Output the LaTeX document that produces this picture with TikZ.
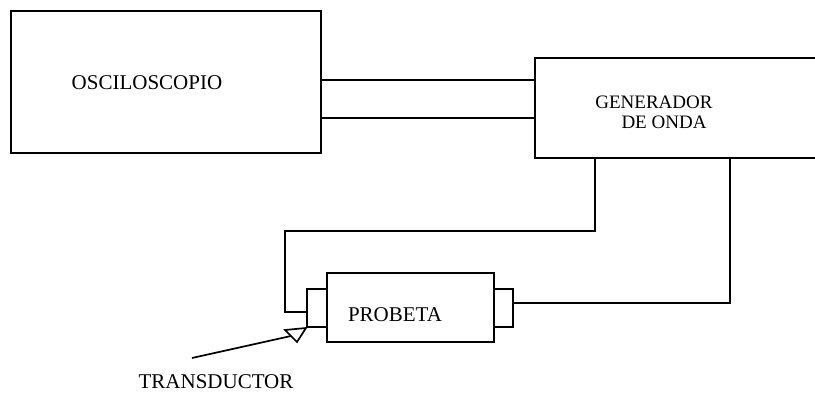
\documentclass[tikz,border=0pt]{standalone}
\usepackage{fontspec}
\setmainfont{Liberation Serif}
\begin{document}
\begin{tikzpicture}[x=1pt,y=-1pt,
  box/.style={draw,line width=1.7pt,inner sep=0pt},
  wire/.style={line width=1.7pt},
  lbl/.style={inner sep=0pt,font=\fontsize{21}{21}\selectfont},
  lblg/.style={inner sep=0pt,font=\fontsize{19}{19}\selectfont}]
\useasboundingbox (0,0) rectangle (815,393);
\clip (0,0) rectangle (815,393);
% boxes
\node[box,minimum width=310pt,minimum height=142pt] (osc) at (166,82) {};
\node[box,minimum width=295pt,minimum height=100pt] (gen) at (682.5,108) {};
\node[box,minimum width=167pt,minimum height=69pt] (prob) at (410.5,307.5) {};
\node[box,minimum width=20pt,minimum height=38pt] (capl) at (317,308) {};
\node[box,minimum width=19pt,minimum height=38pt] (capr) at (503.5,308) {};
% texts
\node[lbl] (tosc) at (147,83) {OSCILOSCOPIO};
\node[lblg] (tgen1) at (654,102) {GENERADOR};
\node[lblg] (tgen2) at (664,122) {DE ONDA};
\node[lbl] (tprob) at (395,315) {PROBETA};
\node[lbl] (ttrans) at (216,382) {TRANSDUCTOR};
% connections oscilloscope - generator
\draw[wire] (osc.east |- 0,80) -- (gen.west |- 0,80);
\draw[wire] (osc.east |- 0,118) -- (gen.west |- 0,118);
% generator to left transducer cap
\coordinate (c1) at (595,231);
\coordinate (c2) at (285,231);
\coordinate (c3) at (285,312);
\draw[wire] (gen.south -| c1) -- (c1) -- (c2) -- (c3) -- (capl.west |- c3);
% right cap to generator
\coordinate (c4) at (730,303);
\draw[wire] (capr.east |- c4) -- (c4) -- (gen.south -| c4);
% transducer symbol
\coordinate (t1) at (285,330);
\coordinate (t2) at (306,328);
\coordinate (t3) at (297,342);
\draw[wire,line join=miter] (t1) -- (t2) -- (t3) -- cycle;
\coordinate (a0) at (192,358);
\coordinate (a1) at (291,336);
\draw[wire] (a0) -- (a1);
\end{tikzpicture}
\end{document}
